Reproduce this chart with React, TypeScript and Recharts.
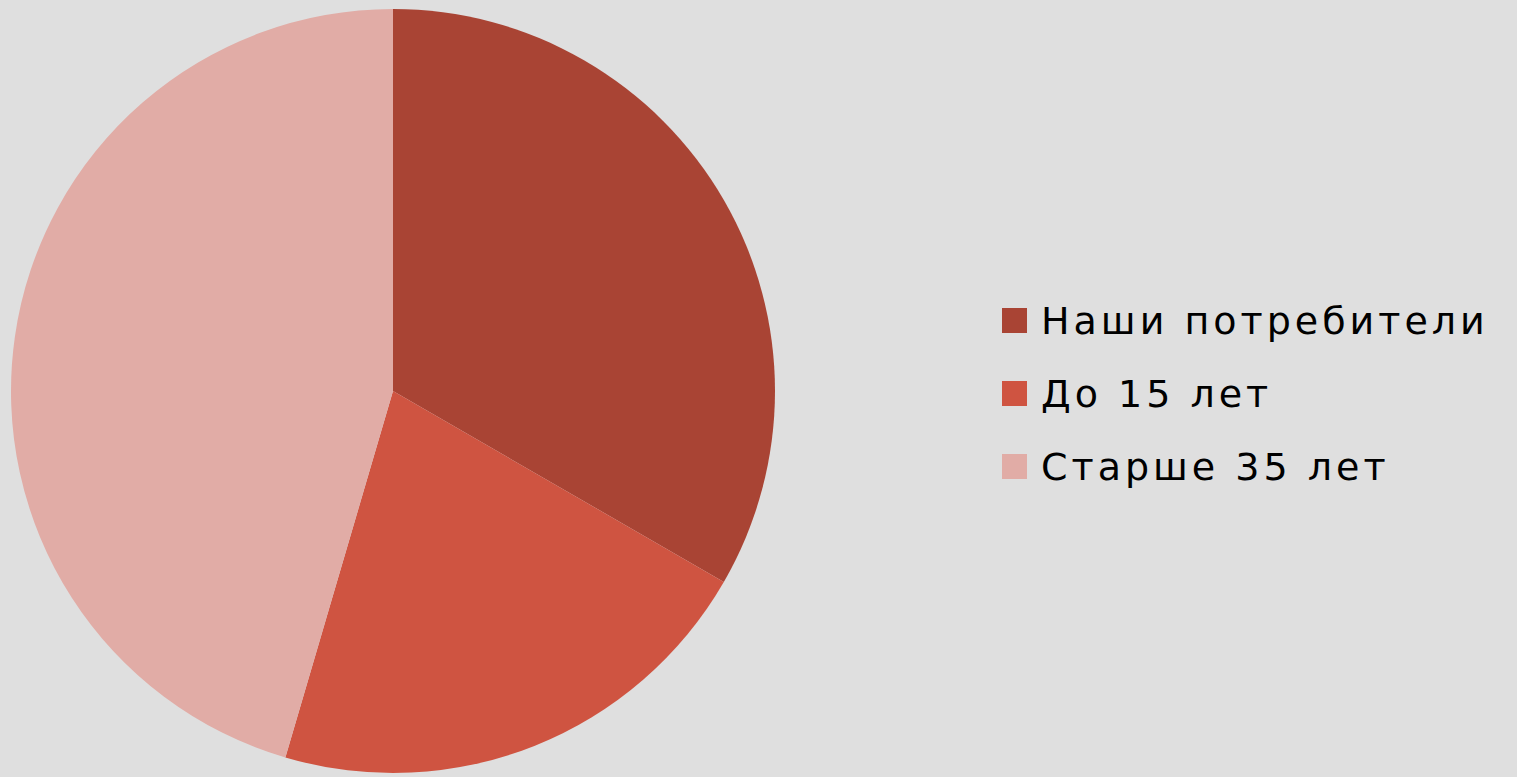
import React from "react";
import { PieChart, Pie, Cell } from "recharts";

const categories = ["Наши потребители", "До 15 лет", "Старше 35 лет"];
const values = [44, 28, 60];
const colors = ["#A94434", "#CF5441", "#E1ACA6"];

const data = categories.map((name, i) => ({ name, value: values[i] }));

export default function App() {
  return (
    <div
      style={{
        position: "fixed",
        left: 0,
        top: 0,
        width: 1517,
        height: 777,
        background: "#DFDFDF",
        overflow: "hidden",
      }}
    >
      <PieChart width={1517} height={777} margin={{ top: 0, right: 0, bottom: 0, left: 0 }}>
        <Pie
          data={data}
          dataKey="value"
          nameKey="name"
          cx={393}
          cy={391}
          outerRadius={382}
          startAngle={90}
          endAngle={-270}
          stroke="none"
          isAnimationActive={false}
        >
          {data.map((_, i) => (
            <Cell key={i} fill={colors[i]} />
          ))}
        </Pie>
      </PieChart>
      <div
        style={{
          position: "absolute",
          left: 1002,
          top: 284,
          display: "flex",
          flexDirection: "column",
        }}
      >
        {categories.map((name, i) => (
          <div key={i} style={{ display: "flex", alignItems: "center", height: 73 }}>
            <div
              style={{
                width: 25,
                height: 25,
                background: colors[i],
                marginRight: 14,
                flexShrink: 0,
              }}
            />
            <span
              style={{
                fontFamily: "'DejaVu Sans', sans-serif",
                fontSize: 38,
                letterSpacing: 4,
                color: "#000",
                whiteSpace: "nowrap",
              }}
            >
              {name}
            </span>
          </div>
        ))}
      </div>
    </div>
  );
}
